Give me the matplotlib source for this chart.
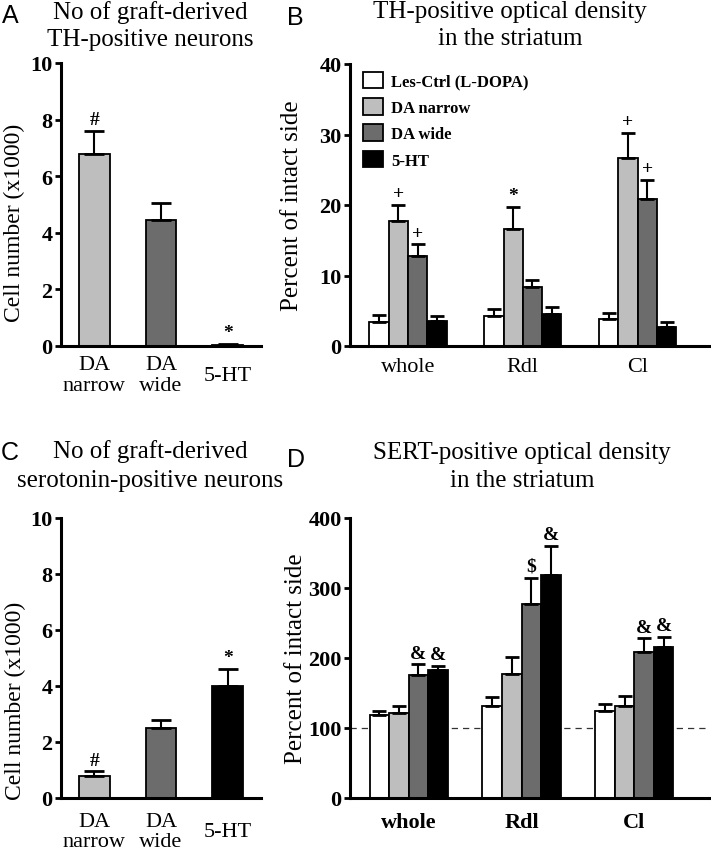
import matplotlib.pyplot as plt
from matplotlib.patches import Patch

# panel A / C: graft-derived cell counts (x1000)
cell_groups = ["DA\nnarrow", "DA\nwide", "5-HT"]
th_cells = [6.8, 4.45, 0.05]
th_cells_err = [0.8, 0.6, 0.02]
th_cells_marks = ["#", "", "*"]
sero_cells = [0.8, 2.5, 4.0]
sero_cells_err = [0.15, 0.28, 0.6]
sero_cells_marks = ["#", "", "*"]

# panel B / D: optical density, percent of intact side
regions = ["whole", "Rdl", "Cl"]
series = ["Les-Ctrl (L-DOPA)", "DA narrow", "DA wide", "5-HT"]
th_les = [3.4, 4.3, 3.9]
th_les_err = [1.0, 1.0, 0.8]
th_narrow = [17.8, 16.6, 26.7]
th_narrow_err = [2.2, 3.1, 3.5]
th_wide = [12.8, 8.3, 20.9]
th_wide_err = [1.6, 1.1, 2.7]
th_5ht = [3.55, 4.6, 2.75]
th_5ht_err = [0.65, 0.9, 0.7]
th_marks = [["", "", ""], ["+", "*", "+"], ["+", "", "+"], ["", "", ""]]

sert_les = [119, 132, 125]
sert_les_err = [6, 12, 10]
sert_narrow = [122, 177, 132]
sert_narrow_err = [9, 25, 14]
sert_wide = [176, 277, 208]
sert_wide_err = [15, 38, 20]
sert_5ht = [183, 318, 216]
sert_5ht_err = [6, 42, 14]
sert_marks = [["", "", ""], ["", "", ""], ["&", "$", "&"], ["&", "&", "&"]]

WHITE, LIGHT, DARK, BLACK = "white", "#bebebe", "#6c6c6c", "black"
series_colors = [WHITE, LIGHT, DARK, BLACK]

plt.rcParams["font.family"] = ["Liberation Serif", "DejaVu Serif"]
plt.rcParams["axes.linewidth"] = 2.2

fig = plt.figure(figsize=(7.11, 8.53), dpi=100)
W, H = 711, 853


def px_axes(left, right, top, bottom):
    return fig.add_axes([left / W, 1 - bottom / H, (right - left) / W, (bottom - top) / H])


def style(ax, ymax, step, xpad, bold_x=False):
    ax.spines["top"].set_visible(False)
    ax.spines["right"].set_visible(False)
    ax.set_ylim(0, ymax)
    ax.set_yticks(range(0, ymax + 1, step))
    ax.tick_params(axis="y", direction="out", length=4, width=2, pad=2, labelsize=16)
    ax.tick_params(axis="x", length=0, pad=xpad, labelsize=16)
    for t in ax.get_yticklabels():
        t.set_fontweight("bold")
    for t in ax.get_xticklabels():
        t.set_verticalalignment("center")
        if bold_x:
            t.set_fontweight("bold")


def mark(ax, x, y, s, size=14):
    if s:
        ax.annotate(s, (x, y), xytext=(0, 2), textcoords="offset points",
                    ha="center", va="bottom", fontsize=size, fontweight="bold")


def count_panel(ax, vals, errs, marks, colors):
    xs = range(len(vals))
    ax.bar(xs, vals, width=0.46, color=colors, edgecolor="black", linewidth=1.3, zorder=2)
    ax.errorbar(xs, vals, yerr=[[0] * len(vals), errs], fmt="none", ecolor="black",
                elinewidth=1.5, capsize=7, capthick=2, zorder=3)
    for x, v, e, m in zip(xs, vals, errs, marks):
        mark(ax, x, v + e, m)
    ax.set_xlim(-0.5, 2.5)
    ax.set_xticks(list(xs))
    ax.set_xticklabels(cell_groups, multialignment="center", linespacing=1.1)


def density_panel(ax, means, errs, marks, width):
    for i, (vals, err, mk) in enumerate(zip(means, errs, marks)):
        xs = [g + (i - 1.5) * width for g in range(len(regions))]
        ax.bar(xs, vals, width=width, color=series_colors[i], edgecolor="black",
               linewidth=1.3, zorder=2, label=series[i])
        ax.errorbar(xs, vals, yerr=[[0] * len(vals), err], fmt="none", ecolor="black",
                    elinewidth=1.5, capsize=5, capthick=2, zorder=3)
        for x, v, e, m in zip(xs, vals, err, mk):
            mark(ax, x, v + e, m)
    ax.set_xticks(range(len(regions)))
    ax.set_xticklabels(regions)


# A
axA = px_axes(61, 261, 64, 347)
count_panel(axA, th_cells, th_cells_err, th_cells_marks, [LIGHT, DARK, BLACK])
axA.set_ylabel("Cell number (x1000)", fontsize=17)
style(axA, 10, 2, 21)
axA.yaxis.set_label_coords(-0.18, 0.44)

# B
axB = px_axes(350, 710, 65, 347)
density_panel(axB, [th_les, th_narrow, th_wide, th_5ht],
              [th_les_err, th_narrow_err, th_wide_err, th_5ht_err], th_marks, 0.168)
axB.set_xlim(-0.505, 2.63)
axB.set_ylabel("Percent of intact side", fontsize=18)
style(axB, 40, 10, 15)
axB.yaxis.set_label_coords(-0.13, 0.5)
handles = [Patch(facecolor=c, edgecolor="black", linewidth=1.3) for c in series_colors]
axB.legend(handles, series, loc="upper left", bbox_to_anchor=(0.036, 0.972), frameon=False,
           borderaxespad=0, borderpad=0, handlelength=1.2, handleheight=1.15,
           handletextpad=0.5, labelspacing=0.5, prop={"size": 12, "weight": "bold"})

# C
axC = px_axes(61, 261, 519, 799)
count_panel(axC, sero_cells, sero_cells_err, sero_cells_marks, [LIGHT, DARK, BLACK])
axC.set_ylabel("Cell number (x1000)", fontsize=17)
style(axC, 10, 2, 24)
axC.yaxis.set_label_coords(-0.175, 0.35)

# D
axD = px_axes(350, 710, 519, 799)
axD.axhline(100, color="#333333", linewidth=0.9, linestyle=(0, (5, 4)), zorder=1)
density_panel(axD, [sert_les, sert_narrow, sert_wide, sert_5ht],
              [sert_les_err, sert_narrow_err, sert_wide_err, sert_5ht_err], sert_marks, 0.173)
axD.set_xlim(-0.52, 2.67)
axD.set_ylabel("Percent of intact side", fontsize=18)
style(axD, 400, 100, 17, bold_x=True)
axD.yaxis.set_label_coords(-0.12, 0.5)

# titles (one text per line) and panel letters
title_kw = dict(ha="center", va="center", fontsize=18)
titles = [
    (150, 13, "No of graft-derived"), (150, 40, "TH-positive neurons"),
    (510, 12, "TH-positive optical density"), (510, 39, "in the striatum"),
    (150, 452, "No of graft-derived"), (150, 481, "serotonin-positive neurons"),
    (522, 453, "SERT-positive optical density"), (522, 481, "in the striatum"),
]
for x, y, s in titles:
    fig.text(x / W, 1 - y / H, s, **title_kw)

letter_kw = dict(ha="left", va="top", fontsize=18, family="Liberation Sans")
fig.text(2 / W, 1 - 4 / H, "A", **letter_kw)
fig.text(287 / W, 1 - 6 / H, "B", **letter_kw)
fig.text(1 / W, 1 - 441 / H, "C", **letter_kw)
fig.text(287 / W, 1 - 448 / H, "D", **letter_kw)

fig.savefig("out.png", dpi=100)
